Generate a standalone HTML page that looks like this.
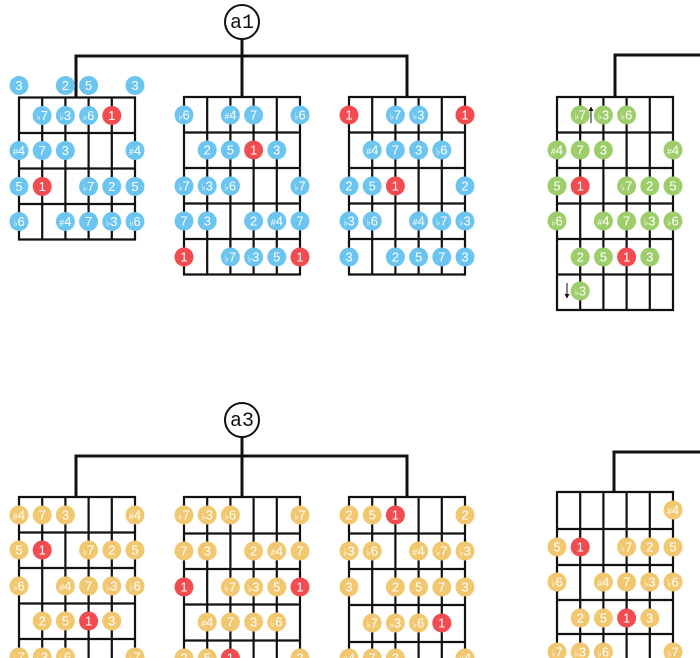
<!DOCTYPE html>
<html><head><meta charset="utf-8"><style>
html,body{margin:0;padding:0;background:#fff;}
body{width:700px;height:658px;overflow:hidden;}
svg{display:block;overflow:hidden;}
.g{fill:none;stroke:#111;stroke-width:2.2;stroke-linecap:square;}
.c{fill:none;stroke:#111;stroke-width:3;}
.b{fill:#6cc5f0}.n{fill:#9ecd6c}.y{fill:#f1c870}.r{fill:#f24b50}
text.t{font-family:"Liberation Sans","DejaVu Sans",sans-serif;font-size:13px;fill:#fff;text-anchor:middle;}
.s{font-size:9px;}
.lab{font-family:"Liberation Mono",monospace;font-size:20px;fill:#111;text-anchor:middle;}
</style></head><body>
<svg width="700" height="658" viewBox="0 0 700 658" xmlns="http://www.w3.org/2000/svg">
<defs><clipPath id="frame"><rect x="0" y="0" width="700" height="658"/></clipPath></defs>
<g clip-path="url(#frame)">
<!-- connectors -->
<path class="c" d="M76 98V56H407V97M242 39V97M615 97V55H700"/>
<path class="c" d="M76 497V456H407V497M242 437V497M614 492V452H700"/>
<circle cx="242" cy="22" r="17" fill="#fff" stroke="#111" stroke-width="2"/>
<text class="lab" x="242" y="28">a1</text>
<circle cx="242" cy="420" r="17" fill="#fff" stroke="#111" stroke-width="2"/>
<text class="lab" x="242" y="426">a3</text>

<!-- TOP FB1 -->
<g transform="translate(19,97.5)">
<path class="g" d="M0 0V142M23.2 0V142M46.4 0V142M69.6 0V142M92.8 0V142M116 0V142M0 0H116M0 35.5H116M0 71H116M0 106.5H116M0 142H116"/>
<circle class="b" cx="0" cy="-12" r="9.5"/><text class="t" x="0" y="-7.5">3</text>
<circle class="b" cx="46.4" cy="-12" r="9.5"/><text class="t" x="46.4" y="-7.5">2</text>
<circle class="b" cx="69.6" cy="-12" r="9.5"/><text class="t" x="69.6" y="-7.5">5</text>
<circle class="b" cx="116" cy="-12" r="9.5"/><text class="t" x="116" y="-7.5">3</text>
<circle class="b" cx="23.2" cy="18" r="9.5"/><text class="t" x="23.2" y="22.5"><tspan class="s">♭</tspan>7</text>
<circle class="b" cx="46.4" cy="18" r="9.5"/><text class="t" x="46.4" y="22.5"><tspan class="s">♭</tspan>3</text>
<circle class="b" cx="69.6" cy="18" r="9.5"/><text class="t" x="69.6" y="22.5"><tspan class="s">♭</tspan>6</text>
<circle class="r" cx="92.8" cy="18" r="9.5"/><text class="t" x="92.8" y="22.5">1</text>
<circle class="b" cx="0" cy="53" r="9.5"/><text class="t" x="0" y="57.5"><tspan class="s">#</tspan>4</text>
<circle class="b" cx="23.2" cy="53" r="9.5"/><text class="t" x="23.2" y="57.5">7</text>
<circle class="b" cx="46.4" cy="53" r="9.5"/><text class="t" x="46.4" y="57.5">3</text>
<circle class="b" cx="116" cy="53" r="9.5"/><text class="t" x="116" y="57.5"><tspan class="s">#</tspan>4</text>
<circle class="b" cx="0" cy="89" r="9.5"/><text class="t" x="0" y="93.5">5</text>
<circle class="r" cx="23.2" cy="89" r="9.5"/><text class="t" x="23.2" y="93.5">1</text>
<circle class="b" cx="69.6" cy="89" r="9.5"/><text class="t" x="69.6" y="93.5"><tspan class="s">♭</tspan>7</text>
<circle class="b" cx="92.8" cy="89" r="9.5"/><text class="t" x="92.8" y="93.5">2</text>
<circle class="b" cx="116" cy="89" r="9.5"/><text class="t" x="116" y="93.5">5</text>
<circle class="b" cx="0" cy="124" r="9.5"/><text class="t" x="0" y="128.5"><tspan class="s">♭</tspan>6</text>
<circle class="b" cx="46.4" cy="124" r="9.5"/><text class="t" x="46.4" y="128.5"><tspan class="s">#</tspan>4</text>
<circle class="b" cx="69.6" cy="124" r="9.5"/><text class="t" x="69.6" y="128.5">7</text>
<circle class="b" cx="92.8" cy="124" r="9.5"/><text class="t" x="92.8" y="128.5"><tspan class="s">♭</tspan>3</text>
<circle class="b" cx="116" cy="124" r="9.5"/><text class="t" x="116" y="128.5"><tspan class="s">♭</tspan>6</text>
</g>

<!-- TOP FB2 -->
<g transform="translate(184,97)">
<path class="g" d="M0 0V177.5M23.2 0V177.5M46.4 0V177.5M69.6 0V177.5M92.8 0V177.5M116 0V177.5M0 0H116M0 35.5H116M0 71H116M0 106.5H116M0 142H116M0 177.5H116"/>
<circle class="b" cx="0" cy="18" r="9.5"/><text class="t" x="0" y="22.5"><tspan class="s">♭</tspan>6</text>
<circle class="b" cx="46.4" cy="18" r="9.5"/><text class="t" x="46.4" y="22.5"><tspan class="s">#</tspan>4</text>
<circle class="b" cx="69.6" cy="18" r="9.5"/><text class="t" x="69.6" y="22.5">7</text>
<circle class="b" cx="116" cy="18" r="9.5"/><text class="t" x="116" y="22.5"><tspan class="s">♭</tspan>6</text>
<circle class="b" cx="23.2" cy="53" r="9.5"/><text class="t" x="23.2" y="57.5">2</text>
<circle class="b" cx="46.4" cy="53" r="9.5"/><text class="t" x="46.4" y="57.5">5</text>
<circle class="r" cx="69.6" cy="53" r="9.5"/><text class="t" x="69.6" y="57.5">1</text>
<circle class="b" cx="92.8" cy="53" r="9.5"/><text class="t" x="92.8" y="57.5">3</text>
<circle class="b" cx="0" cy="89" r="9.5"/><text class="t" x="0" y="93.5"><tspan class="s">♭</tspan>7</text>
<circle class="b" cx="23.2" cy="89" r="9.5"/><text class="t" x="23.2" y="93.5"><tspan class="s">♭</tspan>3</text>
<circle class="b" cx="46.4" cy="89" r="9.5"/><text class="t" x="46.4" y="93.5"><tspan class="s">♭</tspan>6</text>
<circle class="b" cx="116" cy="89" r="9.5"/><text class="t" x="116" y="93.5"><tspan class="s">♭</tspan>7</text>
<circle class="b" cx="0" cy="124" r="9.5"/><text class="t" x="0" y="128.5">7</text>
<circle class="b" cx="23.2" cy="124" r="9.5"/><text class="t" x="23.2" y="128.5">3</text>
<circle class="b" cx="69.6" cy="124" r="9.5"/><text class="t" x="69.6" y="128.5">2</text>
<circle class="b" cx="92.8" cy="124" r="9.5"/><text class="t" x="92.8" y="128.5"><tspan class="s">#</tspan>4</text>
<circle class="b" cx="116" cy="124" r="9.5"/><text class="t" x="116" y="128.5">7</text>
<circle class="r" cx="0" cy="160" r="9.5"/><text class="t" x="0" y="164.5">1</text>
<circle class="b" cx="46.4" cy="160" r="9.5"/><text class="t" x="46.4" y="164.5"><tspan class="s">♭</tspan>7</text>
<circle class="b" cx="69.6" cy="160" r="9.5"/><text class="t" x="69.6" y="164.5"><tspan class="s">♭</tspan>3</text>
<circle class="b" cx="92.8" cy="160" r="9.5"/><text class="t" x="92.8" y="164.5">5</text>
<circle class="r" cx="116" cy="160" r="9.5"/><text class="t" x="116" y="164.5">1</text>
</g>

<!-- TOP FB3 -->
<g transform="translate(349,97)">
<path class="g" d="M0 0V177.5M23.2 0V177.5M46.4 0V177.5M69.6 0V177.5M92.8 0V177.5M116 0V177.5M0 0H116M0 35.5H116M0 71H116M0 106.5H116M0 142H116M0 177.5H116"/>
<circle class="r" cx="0" cy="18" r="9.5"/><text class="t" x="0" y="22.5">1</text>
<circle class="b" cx="46.4" cy="18" r="9.5"/><text class="t" x="46.4" y="22.5"><tspan class="s">♭</tspan>7</text>
<circle class="b" cx="69.6" cy="18" r="9.5"/><text class="t" x="69.6" y="22.5"><tspan class="s">♭</tspan>3</text>
<circle class="r" cx="116" cy="18" r="9.5"/><text class="t" x="116" y="22.5">1</text>
<circle class="b" cx="23.2" cy="53" r="9.5"/><text class="t" x="23.2" y="57.5"><tspan class="s">#</tspan>4</text>
<circle class="b" cx="46.4" cy="53" r="9.5"/><text class="t" x="46.4" y="57.5">7</text>
<circle class="b" cx="69.6" cy="53" r="9.5"/><text class="t" x="69.6" y="57.5">3</text>
<circle class="b" cx="92.8" cy="53" r="9.5"/><text class="t" x="92.8" y="57.5"><tspan class="s">♭</tspan>6</text>
<circle class="b" cx="0" cy="89" r="9.5"/><text class="t" x="0" y="93.5">2</text>
<circle class="b" cx="23.2" cy="89" r="9.5"/><text class="t" x="23.2" y="93.5">5</text>
<circle class="r" cx="46.4" cy="89" r="9.5"/><text class="t" x="46.4" y="93.5">1</text>
<circle class="b" cx="116" cy="89" r="9.5"/><text class="t" x="116" y="93.5">2</text>
<circle class="b" cx="0" cy="124" r="9.5"/><text class="t" x="0" y="128.5"><tspan class="s">♭</tspan>3</text>
<circle class="b" cx="23.2" cy="124" r="9.5"/><text class="t" x="23.2" y="128.5"><tspan class="s">♭</tspan>6</text>
<circle class="b" cx="69.6" cy="124" r="9.5"/><text class="t" x="69.6" y="128.5"><tspan class="s">#</tspan>4</text>
<circle class="b" cx="92.8" cy="124" r="9.5"/><text class="t" x="92.8" y="128.5"><tspan class="s">♭</tspan>7</text>
<circle class="b" cx="116" cy="124" r="9.5"/><text class="t" x="116" y="128.5"><tspan class="s">♭</tspan>3</text>
<circle class="b" cx="0" cy="160" r="9.5"/><text class="t" x="0" y="164.5">3</text>
<circle class="b" cx="46.4" cy="160" r="9.5"/><text class="t" x="46.4" y="164.5">2</text>
<circle class="b" cx="69.6" cy="160" r="9.5"/><text class="t" x="69.6" y="164.5">5</text>
<circle class="b" cx="92.8" cy="160" r="9.5"/><text class="t" x="92.8" y="164.5">7</text>
<circle class="b" cx="116" cy="160" r="9.5"/><text class="t" x="116" y="164.5">3</text>
</g>

<!-- TOP FB4 -->
<g transform="translate(557,97)">
<path class="g" d="M0 0V213M23.2 0V213M46.4 0V213M69.6 0V213M92.8 0V213M116 0V213M0 0H116M0 35.5H116M0 71H116M0 106.5H116M0 142H116M0 177.5H116M0 213H116"/>
<path d="M34 26V11" stroke="#111" stroke-width="1"/><path d="M31.5 14L34 9.5L36.5 14Z" fill="#111"/>
<path d="M10 186V199" stroke="#111" stroke-width="1"/><path d="M7.5 197L10 201.5L12.5 197Z" fill="#111"/>
<circle class="n" cx="23.2" cy="18" r="9.5"/><text class="t" x="23.2" y="22.5"><tspan class="s">♭</tspan>7</text>
<circle class="n" cx="46.4" cy="18" r="9.5"/><text class="t" x="46.4" y="22.5"><tspan class="s">♭</tspan>3</text>
<circle class="n" cx="69.6" cy="18" r="9.5"/><text class="t" x="69.6" y="22.5"><tspan class="s">♭</tspan>6</text>
<circle class="n" cx="0" cy="53" r="9.5"/><text class="t" x="0" y="57.5"><tspan class="s">#</tspan>4</text>
<circle class="n" cx="23.2" cy="53" r="9.5"/><text class="t" x="23.2" y="57.5">7</text>
<circle class="n" cx="46.4" cy="53" r="9.5"/><text class="t" x="46.4" y="57.5">3</text>
<circle class="n" cx="116" cy="53" r="9.5"/><text class="t" x="116" y="57.5"><tspan class="s">#</tspan>4</text>
<circle class="n" cx="0" cy="89" r="9.5"/><text class="t" x="0" y="93.5">5</text>
<circle class="r" cx="23.2" cy="89" r="9.5"/><text class="t" x="23.2" y="93.5">1</text>
<circle class="n" cx="69.6" cy="89" r="9.5"/><text class="t" x="69.6" y="93.5"><tspan class="s">♭</tspan>7</text>
<circle class="n" cx="92.8" cy="89" r="9.5"/><text class="t" x="92.8" y="93.5">2</text>
<circle class="n" cx="116" cy="89" r="9.5"/><text class="t" x="116" y="93.5">5</text>
<circle class="n" cx="0" cy="124" r="9.5"/><text class="t" x="0" y="128.5"><tspan class="s">♭</tspan>6</text>
<circle class="n" cx="46.4" cy="124" r="9.5"/><text class="t" x="46.4" y="128.5"><tspan class="s">#</tspan>4</text>
<circle class="n" cx="69.6" cy="124" r="9.5"/><text class="t" x="69.6" y="128.5">7</text>
<circle class="n" cx="92.8" cy="124" r="9.5"/><text class="t" x="92.8" y="128.5"><tspan class="s">♭</tspan>3</text>
<circle class="n" cx="116" cy="124" r="9.5"/><text class="t" x="116" y="128.5"><tspan class="s">♭</tspan>6</text>
<circle class="n" cx="23.2" cy="160" r="9.5"/><text class="t" x="23.2" y="164.5">2</text>
<circle class="n" cx="46.4" cy="160" r="9.5"/><text class="t" x="46.4" y="164.5">5</text>
<circle class="r" cx="69.6" cy="160" r="9.5"/><text class="t" x="69.6" y="164.5">1</text>
<circle class="n" cx="92.8" cy="160" r="9.5"/><text class="t" x="92.8" y="164.5">3</text>
<circle class="n" cx="23.2" cy="194" r="9.5"/><text class="t" x="23.2" y="198.5"><tspan class="s">♭</tspan>3</text>
</g>

<!-- BOTTOM FB1 -->
<g transform="translate(19,497)">
<path class="g" d="M0 0V161M23.2 0V161M46.4 0V161M69.6 0V161M92.8 0V161M116 0V161M0 0H116M0 35.5H116M0 71H116M0 106.5H116M0 142H116"/>
<circle class="y" cx="0" cy="18" r="9.5"/><text class="t" x="0" y="22.5"><tspan class="s">#</tspan>4</text>
<circle class="y" cx="23.2" cy="18" r="9.5"/><text class="t" x="23.2" y="22.5">7</text>
<circle class="y" cx="46.4" cy="18" r="9.5"/><text class="t" x="46.4" y="22.5">3</text>
<circle class="y" cx="116" cy="18" r="9.5"/><text class="t" x="116" y="22.5"><tspan class="s">#</tspan>4</text>
<circle class="y" cx="0" cy="53" r="9.5"/><text class="t" x="0" y="57.5">5</text>
<circle class="r" cx="23.2" cy="53" r="9.5"/><text class="t" x="23.2" y="57.5">1</text>
<circle class="y" cx="69.6" cy="53" r="9.5"/><text class="t" x="69.6" y="57.5"><tspan class="s">♭</tspan>7</text>
<circle class="y" cx="92.8" cy="53" r="9.5"/><text class="t" x="92.8" y="57.5">2</text>
<circle class="y" cx="116" cy="53" r="9.5"/><text class="t" x="116" y="57.5">5</text>
<circle class="y" cx="0" cy="89" r="9.5"/><text class="t" x="0" y="93.5"><tspan class="s">♭</tspan>6</text>
<circle class="y" cx="46.4" cy="89" r="9.5"/><text class="t" x="46.4" y="93.5"><tspan class="s">#</tspan>4</text>
<circle class="y" cx="69.6" cy="89" r="9.5"/><text class="t" x="69.6" y="93.5">7</text>
<circle class="y" cx="92.8" cy="89" r="9.5"/><text class="t" x="92.8" y="93.5"><tspan class="s">♭</tspan>3</text>
<circle class="y" cx="116" cy="89" r="9.5"/><text class="t" x="116" y="93.5"><tspan class="s">♭</tspan>6</text>
<circle class="y" cx="23.2" cy="124" r="9.5"/><text class="t" x="23.2" y="128.5">2</text>
<circle class="y" cx="46.4" cy="124" r="9.5"/><text class="t" x="46.4" y="128.5">5</text>
<circle class="r" cx="69.6" cy="124" r="9.5"/><text class="t" x="69.6" y="128.5">1</text>
<circle class="y" cx="92.8" cy="124" r="9.5"/><text class="t" x="92.8" y="128.5">3</text>
<circle class="y" cx="0" cy="160" r="9.5"/><text class="t" x="0" y="164.5"><tspan class="s">♭</tspan>7</text>
<circle class="y" cx="23.2" cy="160" r="9.5"/><text class="t" x="23.2" y="164.5"><tspan class="s">♭</tspan>3</text>
<circle class="y" cx="46.4" cy="160" r="9.5"/><text class="t" x="46.4" y="164.5"><tspan class="s">♭</tspan>6</text>
<circle class="y" cx="116" cy="160" r="9.5"/><text class="t" x="116" y="164.5"><tspan class="s">♭</tspan>7</text>
</g>

<!-- BOTTOM FB2 -->
<g transform="translate(184,497)">
<path class="g" d="M0 0V161M23.2 0V161M46.4 0V161M69.6 0V161M92.8 0V161M116 0V161M0 0H116M0 36.5H116M0 72H116M0 107.5H116M0 143.5H116"/>
<circle class="y" cx="0" cy="18" r="9.5"/><text class="t" x="0" y="22.5"><tspan class="s">♭</tspan>7</text>
<circle class="y" cx="23.2" cy="18" r="9.5"/><text class="t" x="23.2" y="22.5"><tspan class="s">♭</tspan>3</text>
<circle class="y" cx="46.4" cy="18" r="9.5"/><text class="t" x="46.4" y="22.5"><tspan class="s">♭</tspan>6</text>
<circle class="y" cx="116" cy="18" r="9.5"/><text class="t" x="116" y="22.5"><tspan class="s">♭</tspan>7</text>
<circle class="y" cx="0" cy="54" r="9.5"/><text class="t" x="0" y="58.5">7</text>
<circle class="y" cx="23.2" cy="54" r="9.5"/><text class="t" x="23.2" y="58.5">3</text>
<circle class="y" cx="69.6" cy="54" r="9.5"/><text class="t" x="69.6" y="58.5">2</text>
<circle class="y" cx="92.8" cy="54" r="9.5"/><text class="t" x="92.8" y="58.5"><tspan class="s">#</tspan>4</text>
<circle class="y" cx="116" cy="54" r="9.5"/><text class="t" x="116" y="58.5">7</text>
<circle class="r" cx="0" cy="90" r="9.5"/><text class="t" x="0" y="94.5">1</text>
<circle class="y" cx="46.4" cy="90" r="9.5"/><text class="t" x="46.4" y="94.5"><tspan class="s">♭</tspan>7</text>
<circle class="y" cx="69.6" cy="90" r="9.5"/><text class="t" x="69.6" y="94.5"><tspan class="s">♭</tspan>3</text>
<circle class="y" cx="92.8" cy="90" r="9.5"/><text class="t" x="92.8" y="94.5">5</text>
<circle class="r" cx="116" cy="90" r="9.5"/><text class="t" x="116" y="94.5">1</text>
<circle class="y" cx="23.2" cy="125" r="9.5"/><text class="t" x="23.2" y="129.5"><tspan class="s">#</tspan>4</text>
<circle class="y" cx="46.4" cy="125" r="9.5"/><text class="t" x="46.4" y="129.5">7</text>
<circle class="y" cx="69.6" cy="125" r="9.5"/><text class="t" x="69.6" y="129.5">3</text>
<circle class="y" cx="92.8" cy="125" r="9.5"/><text class="t" x="92.8" y="129.5"><tspan class="s">♭</tspan>6</text>
<circle class="y" cx="0" cy="161" r="9.5"/><text class="t" x="0" y="165.5">2</text>
<circle class="y" cx="23.2" cy="161" r="9.5"/><text class="t" x="23.2" y="165.5">5</text>
<circle class="r" cx="46.4" cy="161" r="9.5"/><text class="t" x="46.4" y="165.5">1</text>
<circle class="y" cx="116" cy="161" r="9.5"/><text class="t" x="116" y="165.5">2</text>
</g>

<!-- BOTTOM FB3 -->
<g transform="translate(349,497)">
<path class="g" d="M0 0V161M23.2 0V161M46.4 0V161M69.6 0V161M92.8 0V161M116 0V161M0 0H116M0 36.5H116M0 72H116M0 108H116M0 145H116"/>
<circle class="y" cx="0" cy="18" r="9.5"/><text class="t" x="0" y="22.5">2</text>
<circle class="y" cx="23.2" cy="18" r="9.5"/><text class="t" x="23.2" y="22.5">5</text>
<circle class="r" cx="46.4" cy="18" r="9.5"/><text class="t" x="46.4" y="22.5">1</text>
<circle class="y" cx="116" cy="18" r="9.5"/><text class="t" x="116" y="22.5">2</text>
<circle class="y" cx="0" cy="54" r="9.5"/><text class="t" x="0" y="58.5"><tspan class="s">♭</tspan>3</text>
<circle class="y" cx="23.2" cy="54" r="9.5"/><text class="t" x="23.2" y="58.5"><tspan class="s">♭</tspan>6</text>
<circle class="y" cx="69.6" cy="54" r="9.5"/><text class="t" x="69.6" y="58.5"><tspan class="s">#</tspan>4</text>
<circle class="y" cx="92.8" cy="54" r="9.5"/><text class="t" x="92.8" y="58.5"><tspan class="s">♭</tspan>7</text>
<circle class="y" cx="116" cy="54" r="9.5"/><text class="t" x="116" y="58.5"><tspan class="s">♭</tspan>3</text>
<circle class="y" cx="0" cy="90" r="9.5"/><text class="t" x="0" y="94.5">3</text>
<circle class="y" cx="46.4" cy="90" r="9.5"/><text class="t" x="46.4" y="94.5">2</text>
<circle class="y" cx="69.6" cy="90" r="9.5"/><text class="t" x="69.6" y="94.5">5</text>
<circle class="y" cx="92.8" cy="90" r="9.5"/><text class="t" x="92.8" y="94.5">7</text>
<circle class="y" cx="116" cy="90" r="9.5"/><text class="t" x="116" y="94.5">3</text>
<circle class="y" cx="23.2" cy="126" r="9.5"/><text class="t" x="23.2" y="130.5"><tspan class="s">♭</tspan>7</text>
<circle class="y" cx="46.4" cy="126" r="9.5"/><text class="t" x="46.4" y="130.5"><tspan class="s">♭</tspan>3</text>
<circle class="y" cx="69.6" cy="126" r="9.5"/><text class="t" x="69.6" y="130.5"><tspan class="s">♭</tspan>6</text>
<circle class="r" cx="92.8" cy="126" r="9.5"/><text class="t" x="92.8" y="130.5">1</text>
<circle class="y" cx="0" cy="161" r="9.5"/><text class="t" x="0" y="165.5"><tspan class="s">#</tspan>4</text>
<circle class="y" cx="23.2" cy="161" r="9.5"/><text class="t" x="23.2" y="165.5">7</text>
<circle class="y" cx="46.4" cy="161" r="9.5"/><text class="t" x="46.4" y="165.5">3</text>
<circle class="y" cx="116" cy="161" r="9.5"/><text class="t" x="116" y="165.5"><tspan class="s">#</tspan>4</text>
</g>

<!-- BOTTOM FB4 -->
<g transform="translate(557,492)">
<path class="g" d="M0 0V166M23.2 0V166M46.4 0V166M69.6 0V166M92.8 0V166M116 0V166M0 0H116M0 37H116M0 73H116M0 108H116M0 142H116"/>
<circle class="y" cx="116" cy="18" r="9.5"/><text class="t" x="116" y="22.5"><tspan class="s">#</tspan>4</text>
<circle class="y" cx="0" cy="55" r="9.5"/><text class="t" x="0" y="59.5">5</text>
<circle class="r" cx="23.2" cy="55" r="9.5"/><text class="t" x="23.2" y="59.5">1</text>
<circle class="y" cx="69.6" cy="55" r="9.5"/><text class="t" x="69.6" y="59.5"><tspan class="s">♭</tspan>7</text>
<circle class="y" cx="92.8" cy="55" r="9.5"/><text class="t" x="92.8" y="59.5">2</text>
<circle class="y" cx="116" cy="55" r="9.5"/><text class="t" x="116" y="59.5">5</text>
<circle class="y" cx="0" cy="90" r="9.5"/><text class="t" x="0" y="94.5"><tspan class="s">♭</tspan>6</text>
<circle class="y" cx="46.4" cy="90" r="9.5"/><text class="t" x="46.4" y="94.5"><tspan class="s">#</tspan>4</text>
<circle class="y" cx="69.6" cy="90" r="9.5"/><text class="t" x="69.6" y="94.5">7</text>
<circle class="y" cx="92.8" cy="90" r="9.5"/><text class="t" x="92.8" y="94.5"><tspan class="s">♭</tspan>3</text>
<circle class="y" cx="116" cy="90" r="9.5"/><text class="t" x="116" y="94.5"><tspan class="s">♭</tspan>6</text>
<circle class="y" cx="23.2" cy="126" r="9.5"/><text class="t" x="23.2" y="130.5">2</text>
<circle class="y" cx="46.4" cy="126" r="9.5"/><text class="t" x="46.4" y="130.5">5</text>
<circle class="r" cx="69.6" cy="126" r="9.5"/><text class="t" x="69.6" y="130.5">1</text>
<circle class="y" cx="92.8" cy="126" r="9.5"/><text class="t" x="92.8" y="130.5">3</text>
<circle class="y" cx="0" cy="160" r="9.5"/><text class="t" x="0" y="164.5"><tspan class="s">♭</tspan>7</text>
<circle class="y" cx="23.2" cy="160" r="9.5"/><text class="t" x="23.2" y="164.5"><tspan class="s">♭</tspan>3</text>
<circle class="y" cx="46.4" cy="160" r="9.5"/><text class="t" x="46.4" y="164.5"><tspan class="s">♭</tspan>6</text>
<circle class="y" cx="116" cy="160" r="9.5"/><text class="t" x="116" y="164.5"><tspan class="s">♭</tspan>7</text>
</g>
</g>
</svg>
</body></html>
